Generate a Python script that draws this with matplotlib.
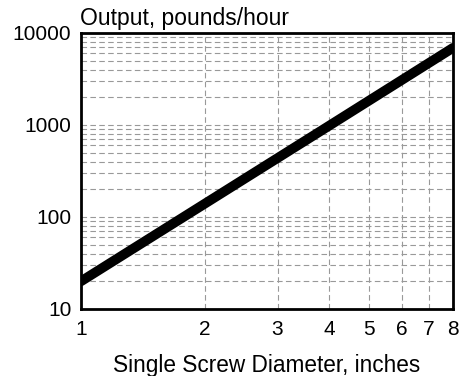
import matplotlib
matplotlib.use("Agg")
import matplotlib.pyplot as plt
from matplotlib.ticker import FixedLocator, NullFormatter

# values
diameter = [1, 2, 4, 8]
output = [20, 140, 980, 6900]
xticks = [1, 2, 3, 4, 5, 6, 7, 8]
yticks = [10, 100, 1000, 10000]

plt.rcParams["font.family"] = ["Liberation Sans", "DejaVu Sans"]

fig = plt.figure(figsize=(4.61, 3.76), dpi=100)
ax = fig.add_axes([81 / 461, 1 - 309 / 376, 372 / 461, 276 / 376])

ax.plot(diameter, output, color="black", linewidth=7, solid_capstyle="round")
ax.set_xscale("log")
ax.set_yscale("log")
ax.set_xlim(1, 8)
ax.set_ylim(10, 10000)

ax.xaxis.set_major_locator(FixedLocator(xticks))
ax.set_xticklabels([str(v) for v in xticks])
ax.xaxis.set_minor_formatter(NullFormatter())
ax.xaxis.set_minor_locator(FixedLocator([]))
ax.yaxis.set_major_locator(FixedLocator(yticks))
ax.set_yticklabels([str(v) for v in yticks])
ax.yaxis.set_minor_formatter(NullFormatter())

ax.grid(True, which="both", axis="y", color="#999999", linestyle=(0, (5, 3)), linewidth=0.8)
ax.grid(True, which="major", axis="x", color="#999999", linestyle=(0, (5, 3)), linewidth=0.8)
ax.tick_params(which="both", length=0, labelsize=15)
ax.tick_params(axis="y", pad=7)
ax.tick_params(axis="x", pad=8)
for s in ax.spines.values():
    s.set_linewidth(2)

fig.text(80 / 461, 1 - 19 / 376, "Output, pounds/hour", fontsize=16.5, ha="left", va="center")
ax.set_xlabel("Single Screw Diameter, inches", fontsize=16.3, labelpad=11)

fig.savefig("out.png", dpi=100)
